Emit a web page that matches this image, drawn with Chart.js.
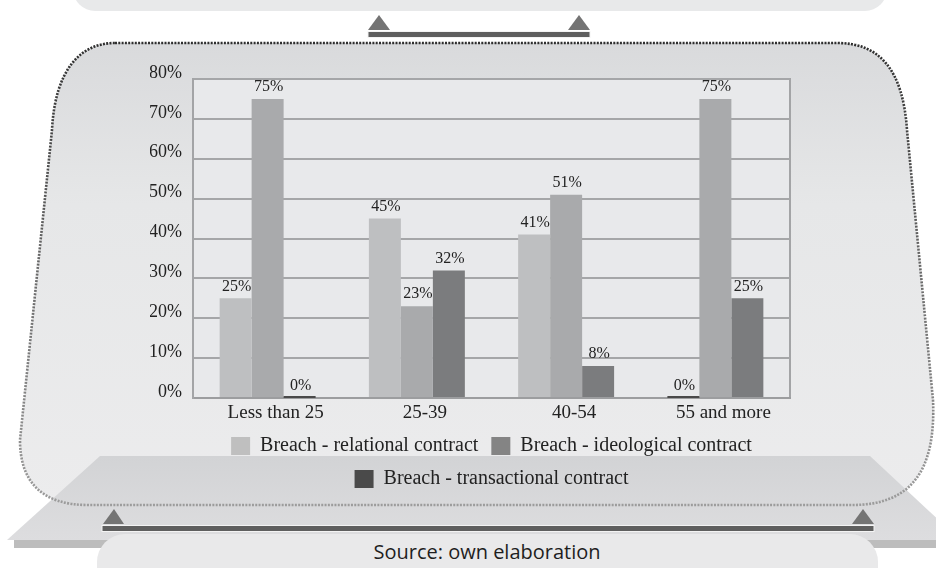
<!DOCTYPE html>
<html>
<head>
<meta charset="utf-8">
<script src="https://cdn.jsdelivr.net/npm/chart.js@4.4.1/dist/chart.umd.min.js"></script>
<style>
  html, body { margin: 0; padding: 0; background: #fff; }
  #wrap { position: relative; width: 936px; height: 568px; overflow: hidden; }
  #frame, #ageChart { position: absolute; left: 0; top: 0; }
</style>
</head>
<body>
<div id="wrap">
  <svg id="frame" width="936" height="568" xmlns="http://www.w3.org/2000/svg">
    <defs>
      <linearGradient id="panelFill" x1="0" y1="43" x2="0" y2="505" gradientUnits="userSpaceOnUse">
        <stop offset="0" stop-color="#d9dadc"/>
        <stop offset="0.35" stop-color="#e6e7e8"/>
        <stop offset="1" stop-color="#ececed"/>
      </linearGradient>
      <linearGradient id="panelEdge" x1="0" y1="43" x2="0" y2="505" gradientUnits="userSpaceOnUse">
        <stop offset="0" stop-color="#2e2e2e"/>
        <stop offset="0.5" stop-color="#6a6a6a"/>
        <stop offset="1" stop-color="#9c9c9c"/>
      </linearGradient>
      <linearGradient id="deckFill" x1="0" y1="456" x2="0" y2="540" gradientUnits="userSpaceOnUse">
        <stop offset="0" stop-color="#d2d3d5"/>
        <stop offset="1" stop-color="#dddddf"/>
      </linearGradient>
    </defs>

    <!-- box above, cut off by the page edge -->
    <rect x="73" y="-40" width="814" height="51" rx="22" fill="#e8e9ea"/>
    <polygon points="368,30 379,15 390,30" fill="#747474"/>
    <polygon points="568,30 579,15 590,30" fill="#747474"/>
    <rect x="368" y="31.5" width="222" height="6" fill="#5f5f5f" stroke="#f4f4f4" stroke-width="1"/>

    <!-- main panel -->
    <path d="M115 43 L837 43 C880 43 903 70 907 130 L933 400 C936 470 912 505 852 505 L88 505 C42 505 20 482 20 440 L52 130 C55 70 80 43 115 43 Z" fill="url(#panelFill)"/>

    <!-- platform under the panel -->
    <rect x="14" y="539" width="922" height="9" fill="#bdbdbd"/>
    <polygon points="100,456 870,456 960,540 7,540" fill="url(#deckFill)"/>

    <path d="M115 43 L837 43 C880 43 903 70 907 130 L933 400 C936 470 912 505 852 505 L88 505 C42 505 20 482 20 440 L52 130 C55 70 80 43 115 43 Z" fill="none" stroke="url(#panelEdge)" stroke-width="2.6" stroke-dasharray="2 1.3"/>

    <!-- bottom rail and source note -->
    <polygon points="103,524 114,509 124,524" fill="#747474"/>
    <polygon points="852,524 863,509 874,524" fill="#747474"/>
    <rect x="102" y="525.5" width="772" height="6" fill="#5f5f5f" stroke="#f4f4f4" stroke-width="1"/>
    <rect x="97" y="534" width="781" height="70" rx="28" fill="#e9e9ea"/>
    <text x="487" y="558.5" text-anchor="middle" font-family="'Open Sans', sans-serif" font-size="20" fill="#1e1e1e">Source: own elaboration</text>
  </svg>
  <canvas id="ageChart" width="936" height="568"></canvas>
</div>

<script>
// age groups on the x axis
const ageGroups = ['Less than 25', '25-39', '40-54', '55 and more'];

// share of respondents reporting each kind of breach (%)
const relationalBreach = [25, 45, 41, 0];
const ideologicalBreach = [75, 23, 51, 75];
const transactionalBreach = [0, 32, 8, 25];

const seriesNames = [
    'Breach - relational contract',
    'Breach - ideological contract',
    'Breach - transactional contract'
];

const barColors = ['#bebfc1', '#a9aaac', '#7b7c7e'];
const legendColors = ['#bfbfbf', '#848484', '#4a4a4a'];

const serif = "'Liberation Serif', 'Times New Roman', serif";

// plot background + frame around the chart area
const plotBackground = {
    id: 'plotBackground',
    beforeDraw(chart) {
        const {ctx, chartArea: a} = chart;
        ctx.save();
        ctx.fillStyle = '#e8e9eb';
        ctx.fillRect(a.left, a.top, a.right - a.left, a.bottom - a.top);
        ctx.strokeStyle = '#a3a4a6';
        ctx.lineWidth = 2;
        ctx.strokeRect(a.left, a.top, a.right - a.left, a.bottom - a.top);
        ctx.restore();
    }
};

// value labels above every bar
const barValues = {
    id: 'barValues',
    afterDatasetsDraw(chart) {
        const {ctx} = chart;
        ctx.save();
        ctx.font = '16px ' + serif;
        ctx.fillStyle = '#222';
        ctx.textAlign = 'center';
        ctx.textBaseline = 'bottom';
        chart.data.datasets.forEach((ds, i) => {
            chart.getDatasetMeta(i).data.forEach((bar, j) => {
                const v = ds.data[j];
                if (v === 0) {
                    // zero values still leave a thin mark on the baseline
                    ctx.fillStyle = '#4a4a4a';
                    ctx.fillRect(bar.x - bar.width / 2, bar.base - 2, bar.width, 2);
                    ctx.fillStyle = '#222';
                }
                ctx.fillText(v + '%', bar.x + 1, bar.y - 4);
            });
        });
        ctx.restore();
    }
};

const values = [relationalBreach, ideologicalBreach, transactionalBreach];

new Chart(document.getElementById('ageChart'), {
    type: 'bar',
    data: {
        labels: ageGroups,
        datasets: values.map((d, i) => ({
            label: seriesNames[i],
            data: d,
            backgroundColor: barColors[i],
            borderWidth: 0,
            barPercentage: 1,
            categoryPercentage: 0.643
        }))
    },
    options: {
        responsive: false,
        animation: false,
        devicePixelRatio: 1,
        layout: { padding: { left: 150, right: 146, top: 79, bottom: 69 } },
        scales: {
            x: {
                grid: { display: false, drawTicks: false },
                border: { display: true, color: '#9c9d9f', width: 2 },
                ticks: { color: '#222', font: { family: serif, size: 19 }, padding: 4, labelOffset: 8 },
                afterFit(scale) { scale.height = 25; }
            },
            y: {
                min: 0,
                max: 80,
                ticks: {
                    stepSize: 10,
                    color: '#222',
                    font: { family: serif, size: 18 },
                    padding: 11,
                    labelOffset: -6,
                    callback: v => v + '%'
                },
                grid: { color: '#a5a6a8', lineWidth: 2, drawTicks: false },
                border: { display: true, color: '#a3a4a6', width: 2 },
                afterFit(scale) { scale.width = 43; }
            }
        },
        plugins: {
            tooltip: { enabled: false },
            legend: {
                position: 'bottom',
                fullSize: false,
                labels: {
                    boxWidth: 19,
                    boxHeight: 18,
                    padding: 13,
                    color: '#222',
                    font: { family: serif, size: 20 },
                    generateLabels(chart) {
                        const items = Chart.defaults.plugins.legend.labels.generateLabels(chart);
                        items.forEach((it, i) => {
                            it.fillStyle = legendColors[i];
                            it.strokeStyle = legendColors[i];
                            it.lineWidth = 0;
                        });
                        return items;
                    }
                }
            }
        }
    },
    plugins: [plotBackground, barValues]
});
</script>
</body>
</html>
